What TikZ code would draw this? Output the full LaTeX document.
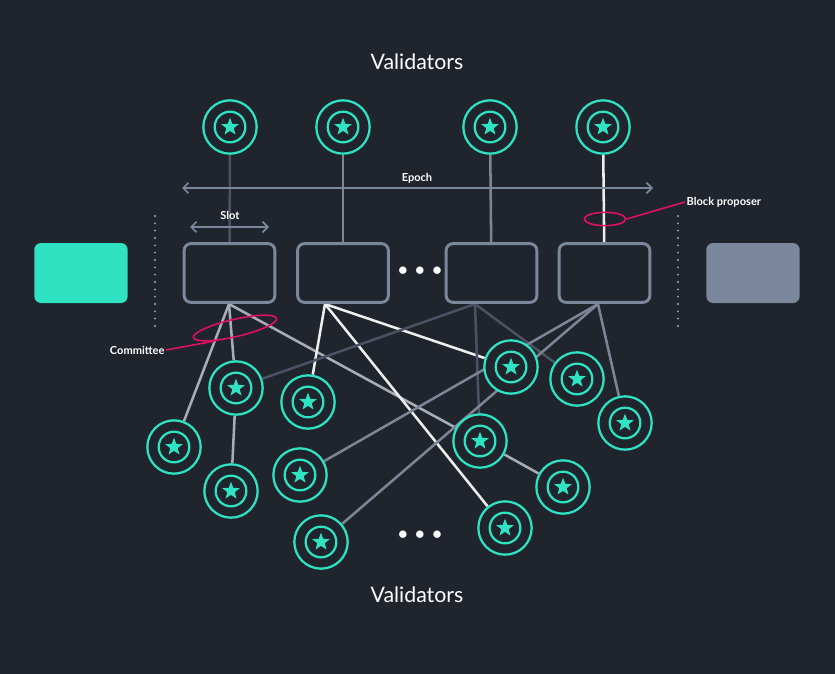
\documentclass[tikz,border=0pt]{standalone}
\usepackage{fontspec}
\setmainfont{Lato}
\usetikzlibrary{arrows.meta,calc}
\pgfdeclarelayer{back}
\pgfdeclarelayer{edges}
\pgfsetlayers{back,edges,main}
\definecolor{bg}{HTML}{1F242D}
\definecolor{teal}{HTML}{2EE2C2}
\definecolor{boxc}{HTML}{7A879C}
\definecolor{lgrey}{HTML}{A7ADB7}
\definecolor{mgrey}{HTML}{7C8596}
\definecolor{dgrey}{HTML}{4A5263}
\definecolor{wline}{HTML}{EEEEEE}
\definecolor{pinkc}{HTML}{E0115F}
\tikzset{
  val/.style={circle, draw=teal, line width=1.7pt, minimum size=40pt, inner sep=0pt, fill=bg,
    path picture={
      \coordinate (pc) at (path picture bounding box.center);
      \draw[teal, line width=1.7pt] (pc) circle (11.5pt);
      \fill[teal] (pc) ++(90:7pt) -- ++(0,0)
        \foreach \a in {126,162,198,234,270,306,342,378,414}{ -- ($(pc)+(\a: {mod(round((\a-90)/36),2)==1 ? 2.9pt : 7pt})$)} -- cycle;
    }},
  slotbox/.style={draw=boxc, line width=2.2pt, rounded corners=5pt, minimum width=68pt, minimum height=44pt, fill=bg},
  lab/.style={text=white, font=\bfseries\fontsize{8.3}{9}\selectfont, inner sep=1pt},
  title/.style={text=white, font=\fontsize{16}{18}\selectfont},
  edge/.style={line width=1.9pt},
  arr/.style={boxc, line width=1.3pt, {Straight Barb[length=4pt,width=8pt]}-{Straight Barb[length=4pt,width=8pt]}},
  dots/.style={lgrey, line width=1.6pt, dash pattern=on 0pt off 5.5pt, line cap=round},
  ring/.style={draw=pinkc, line width=1.2pt, ellipse}
}
\usetikzlibrary{shapes.geometric}
\begin{document}
\begin{tikzpicture}[x=0.75pt,y=-0.75pt]
\begin{pgfonlayer}{back}
\fill[bg] (0,0) rectangle (835,674);
\end{pgfonlayer}
\useasboundingbox (0,0) rectangle (835,674);
\node[title] (t1) at (417,62) {Validators};
\node[title] (t2) at (417,595) {Validators};
% top validators
\node[val] (u1) at (230,127) {};
\node[val] (u2) at (343,127) {};
\node[val] (u3) at (490,127) {};
\node[val] (u4) at (603,127) {};
% boxes
\node[slotbox] (b1) at (229.5,273) {};
\node[slotbox] (b2) at (343,273) {};
\node[slotbox] (b3) at (491.5,273) {};
\node[slotbox] (b4) at (604.5,273) {};
\node[fill=teal, rounded corners=5pt, minimum width=70pt, minimum height=45pt] (lb) at (81,273) {};
\node[fill=boxc, rounded corners=5pt, minimum width=70pt, minimum height=45pt] (rb) at (753,273) {};
\node[text=white, font=\fontsize{14}{14}\selectfont] (d1) at (420,271) {$\bullet\,\bullet\,\bullet$};
\node[text=white, font=\fontsize{14}{14}\selectfont] (d2) at (420,535) {$\bullet\,\bullet\,\bullet$};
\coordinate (dl1) at (155,216); \coordinate (dl2) at (155,330);
\coordinate (dr1) at (678,216); \coordinate (dr2) at (678,330);
\draw[dots] (dl1) -- (dl2);
\draw[dots] (dr1) -- (dr2);
% arrows
\coordinate (e1) at (182,188); \coordinate (e2) at (653,188);
\coordinate (s1) at (190,227); \coordinate (s2) at (269,227);
\draw[arr] (e1) -- (e2);
\draw[arr] (s1) -- (s2);
\node[lab] (epoch) at (417,178) {Epoch};
\node[lab] (slot) at (230,215) {Slot};
% bottom validators
\node[val] (A) at (236,388) {};
\node[val] (B) at (174,447) {};
\node[val] (C) at (231,491) {};
\node[val] (D) at (308,402) {};
\node[val] (E) at (300,475) {};
\node[val] (F) at (321,542) {};
\node[val] (G) at (511,367) {};
\node[val] (H) at (577,379) {};
\node[val] (I) at (625,423) {};
\node[val] (J) at (480,441) {};
\node[val] (K) at (563,487) {};
\node[val] (L) at (505,528) {};
\coordinate (p1) at (229,304); \coordinate (p2) at (325,304);
\coordinate (p3) at (475,304); \coordinate (p4) at (598,304);
\begin{pgfonlayer}{edges}
\draw[edge, dgrey] (u1) -- (b1);
\draw[edge, mgrey] (u2) -- (b2);
\draw[edge, mgrey] (u3) -- (b3);
\draw[edge, wline] (u4) -- (b4);
\draw[edge, lgrey] (p1) -- (B);
\draw[edge, lgrey] (p1) -- (A);
\draw[edge, lgrey] (p1) -- (J);
\draw[edge, lgrey] (A) -- (C);
\draw[edge, lgrey] (J) -- (K);
\draw[edge, wline] (p2) -- (D);
\draw[edge, wline] (p2) -- (L);
\draw[edge, wline] (p2) -- (G);
\draw[edge, dgrey] (p3) -- (A);
\draw[edge, dgrey] (p3) -- (J);
\draw[edge, dgrey] (p3) -- (H);
\draw[edge, mgrey] (p4) -- (E);
\draw[edge, mgrey] (p4) -- (F);
\draw[edge, mgrey] (p4) -- (I);
\end{pgfonlayer}
% markers
\node[ring, minimum width=31pt, minimum height=10pt] (bp) at (605,219) {};
\node[lab, anchor=west] (bpl) at (685,202) {Block proposer};
\draw[pinkc, line width=1.2pt] (bp.east) -- (bpl.west);
\node[ring, minimum width=64pt, minimum height=13pt, rotate=13] (cm) at (235,328) {};
\node[lab, anchor=east] (cml) at (166,350) {Committee};
\draw[pinkc, line width=1.2pt] (cml.east) -- (cm.200);
\end{tikzpicture}
\end{document}
